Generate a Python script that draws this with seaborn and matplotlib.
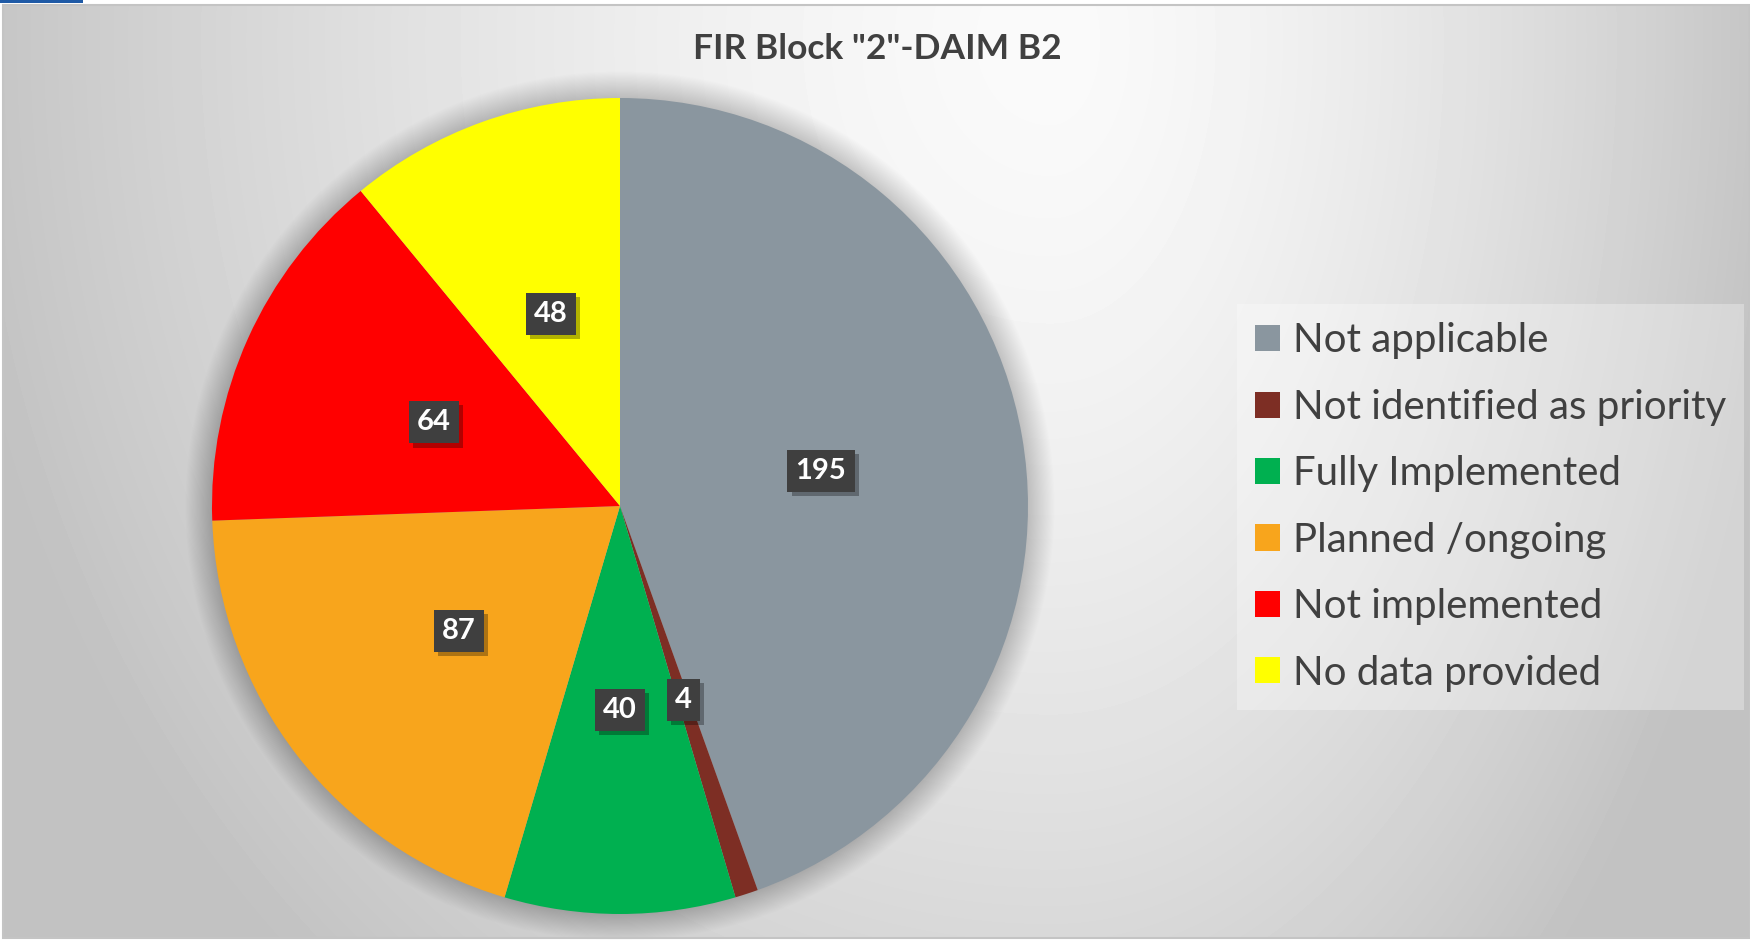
import numpy as np
import matplotlib
matplotlib.use("Agg")
import matplotlib.pyplot as plt
import matplotlib.patheffects as pe
from matplotlib.patches import Circle, Rectangle
import seaborn as sns

# data
categories = ["Not applicable", "Not identified as priority", "Fully Implemented",
              "Planned /ongoing", "Not implemented", "No data provided"]
counts = [195, 4, 40, 87, 64, 48]
slice_colors = ["#8a969f", "#7d2e24", "#00b050", "#f8a51c", "#ff0000", "#ffff00"]
title = 'FIR Block "2"-DAIM B2'

sns.set_theme(style="white")
plt.rcParams['font.family'] = ['Lato', 'DejaVu Sans']
text_color = "#404040"

W, H = 1750, 940
fig = plt.figure(figsize=(W / 100, H / 100), dpi=100)
fig.patch.set_facecolor('white')

# soft radial grey background (Excel style chart area)
bw, bh = W - 3, H - 9
bg = fig.add_axes([3 / W, 3 / H, bw / W, bh / H])
xx, yy = np.meshgrid(np.arange(bw) + 3, np.arange(bh) + 6)
dx = xx - 1050
sx = np.where(dx < 0, 1050, 700)
t = np.sqrt((dx / sx) ** 2 + ((yy - 40) / 1200) ** 2)
shade = np.clip(250 - 52 * t ** 1.5, 194, 250) / 255
bg.imshow(shade, cmap='gray', vmin=0, vmax=1, aspect='auto', interpolation='bilinear')
bg.axis('off')

# chart border + little blue tab at the top
fig.patches.append(Rectangle((2.5 / W, 2 / H), (W - 2) / W, (H - 7) / H, transform=fig.transFigure,
                             fill=False, ec='#c4c4c4', lw=1.5))
fig.patches.append(Rectangle((0, 1 - 2.5 / H), 83 / W, 2.5 / H, transform=fig.transFigure,
                             color='#1f5aa6', lw=0))

# pie axes: centre (620, 506) px, radius 408 px
R = 408
ax = fig.add_axes([(620 - 500) / W, (H - 506 - 500) / H, 1000 / W, 1000 / H])

# outer shadow around the pie
for i in range(24):
    ax.add_patch(Circle((0, 0), 1 + 0.065 * (24 - i) / 24, color='black', alpha=0.009, lw=0, zorder=0))

total = sum(counts)
wedges, texts, autotexts = ax.pie(
    counts, colors=slice_colors, startangle=90, counterclock=False, radius=1,
    autopct=lambda p: f"{round(p * total / 100):.0f}", pctdistance=0.5,
    wedgeprops=dict(linewidth=0),
    textprops=dict(color='white', fontsize=21, fontweight='bold'))
ax.set_xlim(-500 / R, 500 / R)
ax.set_ylim(-500 / R, 500 / R)
ax.axis('off')

for at in autotexts:
    at.set_bbox(dict(boxstyle='square,pad=0.28', fc='#3f3f3f', ec='none'))
    at.get_bbox_patch().set_path_effects([
        pe.SimplePatchShadow(offset=(3, -3), shadow_rgbFace='black', alpha=0.3),
        pe.Normal()])

fig.text(877 / W, 1 - 49 / H, title, ha='center', va='center',
         fontsize=25.5, fontweight='bold', color=text_color)

leg = fig.legend(wedges, categories, loc='center left', bbox_to_anchor=(1237 / W, 1 - 507 / H),
                 frameon=True, facecolor='white', framealpha=0.3, edgecolor='none', fancybox=False,
                 fontsize=29, handlelength=0.62, handleheight=0.62, handletextpad=0.32,
                 labelspacing=0.73, borderpad=0.45, borderaxespad=0)
for txt in leg.get_texts():
    txt.set_color(text_color)

fig.savefig('out.png', dpi=100)
